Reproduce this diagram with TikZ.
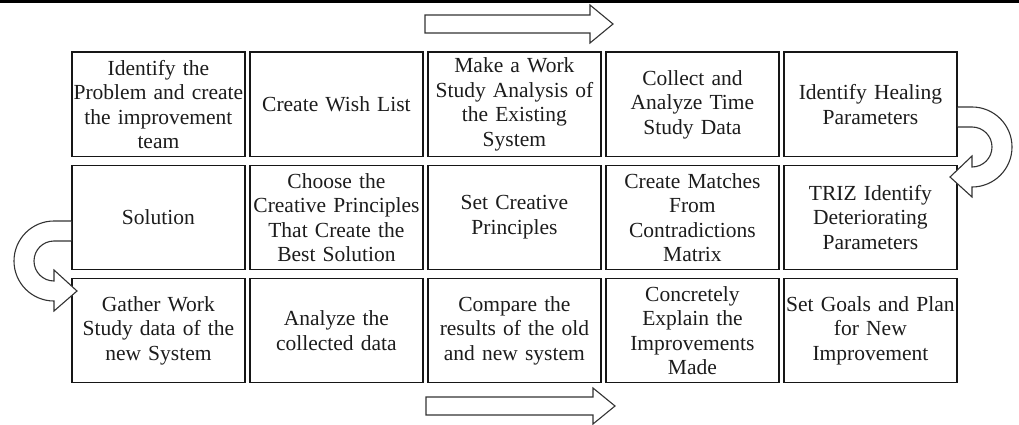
\documentclass[tikz,border=0pt]{standalone}
\usepackage{fontspec}
\setmainfont{Liberation Serif}
\usetikzlibrary{calc}
\definecolor{boxline}{HTML}{161616}
\definecolor{txt}{HTML}{1C1C1C}
\definecolor{arrline}{HTML}{333333}
\begin{document}
\begin{tikzpicture}[x=1pt,y=1pt,
  stepbox/.style={draw=boxline, line width=1.8pt, fill=white, anchor=north west,
    minimum width=173pt, minimum height=104pt, inner sep=0pt, text width=172pt,
    align=center, font=\fontsize{21.5}{24.5}\selectfont, text=txt},
  bigarrow/.style={draw=arrline, line width=1.1pt, fill=white, line join=miter}]
\useasboundingbox (0,0) rectangle (1019,-425);

% rule across the top
\fill[black] (0,0) rectangle (1019,-3);

% row 1
\node[stepbox] (b11) at (71,-51.5)  {Identify the\\Problem and create\\the improvement\\team};
\node[stepbox] (b12) at (249,-51.5) {Create Wish List};
\node[stepbox] (b13) at (427,-51.5) {Make a Work\\Study Analysis of\\the Existing\\System};
\node[stepbox] (b14) at (605,-51.5) {Collect and\\Analyze Time\\Study Data};
\node[stepbox] (b15) at (783,-51.5) {Identify Healing\\Parameters};
% row 2
\node[stepbox] (b21) at (71,-164.5)  {Solution};
\node[stepbox] (b22) at (249,-164.5) {Choose the\\Creative Principles\\That Create the\\Best Solution};
\node[stepbox] (b23) at (427,-164.5) {Set Creative\\Principles};
\node[stepbox] (b24) at (605,-164.5) {Create Matches\\From\\Contradictions\\Matrix};
\node[stepbox] (b25) at (783,-164.5) {TRIZ Identify\\Deteriorating\\Parameters};
% row 3
\node[stepbox] (b31) at (71,-277.5)  {Gather Work\\Study data of the\\new System};
\node[stepbox] (b32) at (249,-277.5) {Analyze the\\collected data};
\node[stepbox] (b33) at (427,-277.5) {Compare the\\results of the old\\and new system};
\node[stepbox] (b34) at (605,-277.5) {Concretely\\Explain the\\Improvements\\Made};
\node[stepbox] (b35) at (783,-277.5) {Set Goals and Plan\\for New\\Improvement};

% block arrows above and below the grid
\draw[bigarrow] (425,-15) -- (590,-15) -- (590,-5) -- (613,-24) -- (590,-43)
  -- (590,-33) -- (425,-33) -- cycle;
\draw[bigarrow] (426,-397) -- (593,-397) -- (593,-388) -- (615,-406) -- (593,-424)
  -- (593,-415) -- (426,-415) -- cycle;

% U-turn arrow from the end of row 1 down to row 2
\coordinate (rc) at (972,-147);
\draw[bigarrow] (b15.east |- 0,-107) -- ($(rc)+(0,40)$)
  arc[start angle=90, end angle=-90, radius=40]
  -- ($(rc)+(0,-50)$) -- ($(rc)+(-22,-30)$) -- ($(rc)+(0,-9)$) -- ($(rc)+(0,-20)$)
  arc[start angle=-90, end angle=90, radius=20]
  -- (b15.east |- 0,-127);

% U-turn arrow from the start of row 2 down to row 3
\coordinate (lc) at (54,-261);
\draw[bigarrow] (b21.west |- 0,-221) -- ($(lc)+(0,40)$)
  arc[start angle=90, end angle=270, radius=40]
  -- ($(lc)+(0,-50)$) -- ($(lc)+(23,-30)$) -- ($(lc)+(0,-9)$) -- ($(lc)+(0,-20)$)
  arc[start angle=270, end angle=90, radius=20]
  -- (b21.west |- 0,-241);
\end{tikzpicture}
\end{document}
